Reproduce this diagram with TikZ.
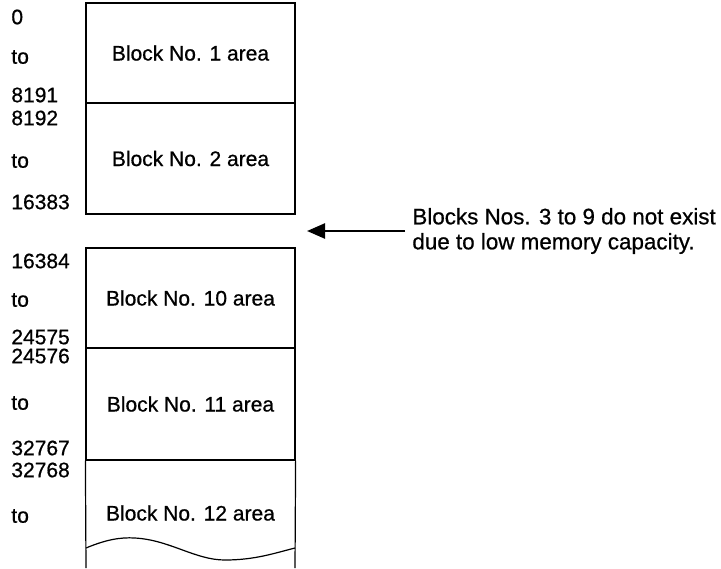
\documentclass[tikz,border=0pt]{standalone}
\usepackage{fontspec}
\setmainfont{Liberation Sans}[FakeBold=0.7]
\usetikzlibrary{arrows.meta}
\newcommand{\blockfont}{\fontsize{10.5}{12.5}\selectfont}
\newcommand{\notefont}{\fontsize{11.2}{12.5}\selectfont}
\tikzset{
  blockbox/.style={
    draw=black,line width=.6pt,minimum width=104.5pt,
    inner sep=0pt,align=center,font=\blockfont
  },
  addr/.style={anchor=west,inner sep=0pt,font=\blockfont},
  note/.style={anchor=west,align=left,inner sep=3.5pt,font=\notefont},
  arrow/.style={-{Triangle[length=9pt,width=7.5pt]},draw=black,line width=1.2pt},
  edge/.style={draw=black,line width=.6pt}
}
\begin{document}
\begin{tikzpicture}[x=0.5pt,y=-0.5pt]
\useasboundingbox (0,0) rectangle (721,568);
% memory blocks
\node[blockbox,minimum height=50pt] (b1) at (190.5,53) {Block No. 1 area};
\node[blockbox,minimum height=55.5pt] (b2) at (190.5,158.5) {Block No. 2 area};
\node[blockbox,minimum height=50pt] (b10) at (190.5,298) {Block No. 10 area};
\node[blockbox,minimum height=56pt] (b11) at (190.5,404) {Block No. 11 area};
\node[font=\blockfont,inner sep=0pt] (b12) at (190.5,513) {Block No. 12 area};
% open bottom of block 12
\coordinate (bl) at (86,568);
\coordinate (br) at (295,568);
\coordinate (wl) at (86,548);
\coordinate (wr) at (295,548);
\draw[edge] (b11.south west) -- (bl);
\draw[edge] (b11.south east) -- (br);
\draw[edge] (wl) .. controls (105,540) and (120,537) .. (135,538)
  .. controls (170,540) and (195,560) .. (225,560)
  .. controls (255,560) and (275,553) .. (wr);
% addresses
\foreach \txt/\y/\n in {0/17/a1,to/57/t1,8191/95/z1,
    8192/118/a2,to/161/t2,16383/202/z2,
    16384/261/a10,to/300/t10,24575/337/z10,
    24576/356/a11,to/403/t11,32767/448/z11,
    32768/470/a12,to/516/t12}
  \node[addr] (\n) at (11,\y) {\txt};
% missing blocks
\node[note] (miss) at (405,231) {Blocks Nos. 3 to 9 do not exist\\due to low memory capacity.};
\coordinate (gap) at (307,231);
\draw[arrow] (miss.west) -- (gap);
\end{tikzpicture}
\end{document}
